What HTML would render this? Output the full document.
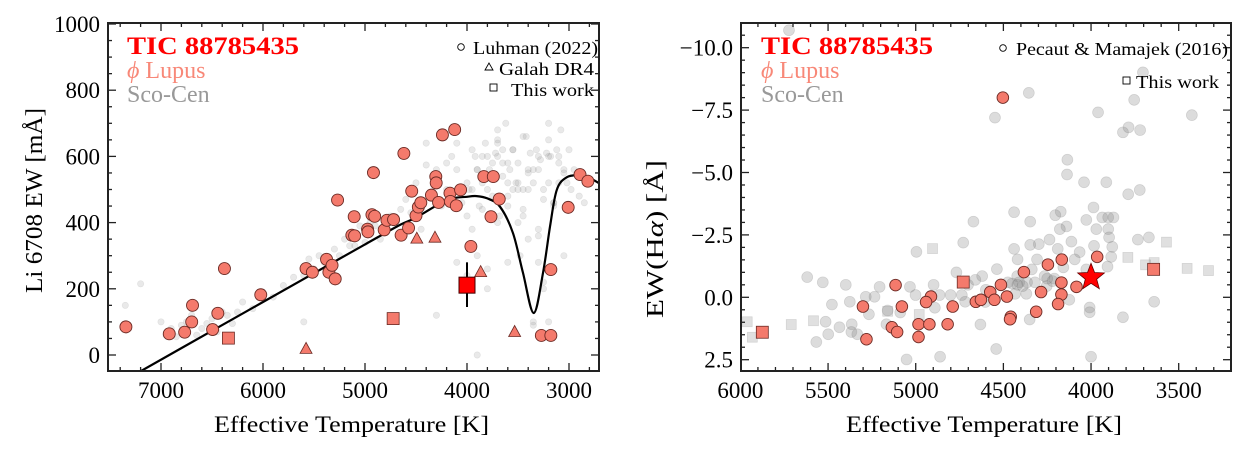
<!DOCTYPE html>
<html><head><meta charset="utf-8">
<style>
html,body{margin:0;padding:0;background:#fff;}
svg{display:block;font-family:"Liberation Serif",serif;}
</style></head>
<body>
<svg id="fig" width="1247" height="452" viewBox="0 0 1247 452" xmlns="http://www.w3.org/2000/svg">
<g id="left"></g>
<g id="right"></g>
</svg>
<script>
// ---------- LEFT PANEL DATA ----------
const liCircT  = [7344,6919,6768,6699,6691,6494,6443,6378,6022,5578,5516,5377,5354,5323,5292,5269,5129,5102,5106,4975,4971,4932,4917,4905,4812,4785,4720,4646,4619,4573,4542,4500,4477,4453,4349,4306,4302,4279,4241,4167,4163,4121,4105,4063,3962,3835,3742,3765,3684,3271,3178,3178,3008,2892,2815];
const liCircEW = [85,64,69,100,150,77,126,261,182,261,250,289,250,271,230,468,362,360,418,380,372,424,551,419,378,407,409,362,609,384,495,421,447,460,483,539,520,461,665,489,464,681,451,499,328,539,539,418,471,59,59,258,446,545,525];
const liTriT  = [4492,4314,3866,5578,3533];
const liTriEW = [353,356,252,20,71];
const liSqT  = [6339,4724];
const liSqEW = [51,110];
const targetT = [4000];
const targetEW = [211];
const targetErrLo = [145];
const targetErrHi = [280];
const curveT  = [7206,6500,6000,5500,5000,4657,4500,4199,4000,3905,3800,3676,3549,3451,3346,3255,3186,3121,3023,2892,2800,2706];
const curveEW = [-50,73,160,247,334,393,415,468,478,480,473,448,368,248,127,248,388,498,537,543,535,519];
const liGrayT  = [7350,7200,7000,6950,6900,6850,6800,6750,6700,6650,6600,6550,6500,6450,6400,6350,6300,6250,6200,6100,6000,5900,5800,5700,5600,5550,5500,5450,5400,5300,5250,5200,5150,5100,5050,5000,4950,4900,4850,4800,4750,4700,4650,4600,4550,4500,4450,4400,4350,4300,4250,4200,4150,4100,4050,4000,3980,3950,3920,3900,3880,3850,3820,3800,3780,3750,3720,3700,3680,3650,3620,3600,3580,3550,3520,3500,3480,3450,3420,3400,3380,3350,3320,3300,3280,3250,3220,3200,3180,3150,3120,3100,3080,3050,3020,3000,2980,2950,2900,2850,3900,3800,3700,3600,3500,3400,3300,3200,3100,3850,3750,3650,3550,3450,3350,3250,3150,3050,4100,4000,3950,3700,3600,3450,3300,3250,3200,6700,5600,4400,4300,3350,3900,3800,3700,3600,3500,3400,3300,3200,3100,3050,3950,3850,3750,3650,3550,3450,3350,3250,3150,4200,4100,4000,3900,3800,3700,3600,3500,3400,3300,3200];
const liGrayEW = [150,215,100,60,80,55,90,100,120,60,80,95,110,70,130,120,95,130,160,140,190,175,210,235,240,290,260,300,280,320,300,350,330,330,390,340,400,390,350,380,420,400,440,470,430,520,380,640,480,560,450,500,600,560,460,420,500,380,600,560,450,520,640,500,560,580,610,600,420,540,700,480,560,620,520,580,300,500,660,560,610,520,620,360,590,470,610,520,600,460,620,520,680,560,520,620,500,560,480,460,300,260,650,280,400,350,280,700,580,440,480,620,500,440,100,200,460,300,280,240,620,680,520,420,380,220,100,140,100,574,120,90,0,200,400,450,500,550,600,650,600,550,500,600,540,580,620,660,560,500,450,580,640,520,560,600,640,580,520,500,560,600,640,680];
// ---------- RIGHT PANEL DATA ----------
const haCircT  = [4503,3965,4167,4246,4383,4169,4514,4083,4575,4285,4169,4913,4657,4628,4551,4480,4941,5115,5079,5301,4789,4188,4313,4458,4462,4984,4922,4818,5136,5106,4984,5281];
const haCircEW = [-8.0,-1.62,-1.51,-1.31,-1.01,-0.59,-0.50,-0.42,-0.21,-0.21,-0.11,-0.03,0.18,0.10,0.10,-0.03,0.19,-0.49,0.37,0.37,0.37,0.27,0.58,0.78,0.88,1.08,1.08,1.08,1.20,1.39,1.59,1.68];
const haSqT  = [5875,4729,3643];
const haSqEW = [1.40,-0.61,-1.12];
const starT  = [4000];
const starEW = [-0.8];
const haGrayT  = [5723,4355,4548,3960,3754,3704,3425,3818,3786,3720,4135,4137,4040,3913,3788,3722,3986,4439,4173,4204,4347,4671,4027,3936,3902,3872,4140,3970,3902,4178,3670,3733,3897,4237,4112,4729,4298,4347,3879,4439,4190,4065,3983,4996,3885,4419,4308,4093,3906,4158,4338,4537,4768,4027,4621,4421,4265,4209,4474,4410,4365,4320,4253,4898,4702,5619,5530,5399,5033,5206,5001,4864,4801,4737,5285,5235,4433,4369,4718,4603,5478,5376,5160,5267,5088,4891,4124,4008,4008,3640,3818,5514,5365,5435,5167,4631,4350,5367,5499,5333,5567,4541,4861,5052,4000,4450,4420,4390,4600,4660,4250,4220];
const haGrayEW = [-10.7,-8.19,-7.2,-7.41,-7.91,-9.01,-7.30,-6.61,-6.81,-6.70,-5.51,-4.92,-4.61,-4.61,-4.13,-4.30,-3.60,-3.41,-3.43,-3.29,-3.03,-3.03,-3.10,-3.20,-3.20,-3.20,-2.84,-2.73,-2.73,-2.73,-2.40,-2.31,-2.40,-2.31,-2.23,-2.19,-2.13,-2.10,-2.02,-1.94,-1.94,-1.81,-2.06,-1.82,-1.62,-1.52,-1.52,-1.52,-1.23,-1.20,-1.12,-1.13,-1.0,-1.12,-0.85,-0.85,-0.85,-0.75,-0.60,-0.60,-0.60,-0.60,-0.45,-0.50,-0.50,-0.81,-0.60,-0.50,-0.42,-0.42,-0.09,-0.09,-0.09,-0.09,-0.02,-0.02,-0.14,-0.14,0.18,0.19,0.29,0.18,0.53,0.68,0.61,0.42,0.10,0.41,0.60,0.18,0.80,0.98,1.08,1.20,1.08,1.09,0.89,1.39,1.48,1.48,1.79,2.07,2.38,2.49,2.38,-0.55,-0.5,-0.45,-0.3,-0.7,-0.75,-0.65];
const haGraySqT  = [5961,5932,5710,5583,4904,3790,3689,3640,3570,3452,3330,5160,4980];
const haGraySqEW = [0.98,1.60,1.09,0.94,-1.95,-1.60,-1.30,-1.39,-2.21,-1.16,-1.07,0.56,0.69];

const leftXTicks = [7000,6000,5000,4000,3000];
const leftYTicks = [0,200,400,600,800,1000];
const rightXTicks = [6000,5500,5000,4500,4000,3500];
const rightYTicks = [-10.0,-7.5,-5.0,-2.5,0.0,2.5];

const NS='http://www.w3.org/2000/svg';
const SALMON='#f47a6c';
function mk(parent,tag,attrs,text){
  const e=document.createElementNS(NS,tag);
  for(const k in attrs) e.setAttribute(k,attrs[k]);
  if(text!==undefined) e.textContent=text;
  parent.appendChild(e); return e;
}
function lin(d0,d1,p0,p1){return v=>p0+(v-d0)/(d1-d0)*(p1-p0);}
function smoothPath(P){
  let d='M'+P[0][0].toFixed(1)+','+P[0][1].toFixed(1);
  for(let i=0;i<P.length-1;i++){
    const p0=P[Math.max(i-1,0)],p1=P[i],p2=P[i+1],p3=P[Math.min(i+2,P.length-1)];
    const c1=[p1[0]+(p2[0]-p0[0])/6,p1[1]+(p2[1]-p0[1])/6];
    const c2=[p2[0]-(p3[0]-p1[0])/6,p2[1]-(p3[1]-p1[1])/6];
    d+=`C${c1[0].toFixed(1)},${c1[1].toFixed(1)} ${c2[0].toFixed(1)},${c2[1].toFixed(1)} ${p2[0].toFixed(1)},${p2[1].toFixed(1)}`;
  }
  return d;
}
function fitText(parent,attrs,text,len){
  const t=mk(parent,'text',Object.assign({textLength:len,lengthAdjust:'spacingAndGlyphs'},attrs),text);
  return t;
}

// ---------- LEFT ----------
(function(){
  const g=document.getElementById('left');
  const X0=108,X1=599,Y0=23,Y1=371;
  const xs=lin(7000,3000,161,569), ys=lin(0,1000,355,24);
  const clip=mk(g,'clipPath',{id:'clipL'}); mk(clip,'rect',{x:X0,y:Y0,width:X1-X0,height:Y1-Y0});
  const pl=mk(g,'g',{'clip-path':'url(#clipL)'});
  
  
  for(let i=0;i<liGrayT.length;i++){
    const c=mk(pl,'circle',{cx:xs(liGrayT[i]),cy:ys(liGrayEW[i]),r:3.2,fill:'rgba(120,120,120,0.16)',stroke:'rgba(90,90,90,0.12)','stroke-width':0.6});
    
    
  }
  const P=curveT.map((t,i)=>[xs(t),ys(curveEW[i])]);
  const cv=mk(pl,'path',{d:smoothPath(P),fill:'none',stroke:'#000','stroke-width':2.2,'stroke-linejoin':'round'});
  
  
  for(let i=0;i<liCircT.length;i++){
    const c=mk(pl,'circle',{cx:xs(liCircT[i]),cy:ys(liCircEW[i]),r:6,fill:SALMON,stroke:'#6b2a24','stroke-width':0.9});
    
    
  }
  for(let i=0;i<liTriT.length;i++){
    const x=xs(liTriT[i]),y=ys(liTriEW[i]);
    const t=mk(pl,'polygon',{points:`${x},${y-6} ${x-6},${y+5} ${x+6},${y+5}`,fill:SALMON,stroke:'#6b2a24','stroke-width':0.8});
    
    
  }
  for(let i=0;i<liSqT.length;i++){
    const s=mk(pl,'rect',{x:xs(liSqT[i])-6,y:ys(liSqEW[i])-6,width:12,height:12,fill:SALMON,stroke:'#6b2a24','stroke-width':0.8});
    
    
  }
  for(let i=0;i<targetT.length;i++){
    const x=xs(targetT[i]);
    const eb=mk(pl,'line',{x1:x,x2:x,y1:ys(targetErrLo[i]),y2:ys(targetErrHi[i]),stroke:'#000','stroke-width':2});
    
    
    const s=mk(pl,'rect',{x:x-8,y:ys(targetEW[i])-8,width:16,height:16,fill:'#ff0000',stroke:'#400','stroke-width':1});
    
    
  }
  axes(g,X0,X1,Y0,Y1,xs,ys,leftXTicks,leftYTicks,7500,2700,200,-50,1000,50,v=>String(v),'left');
  const xt=fitText(g,{x:214,y:432,'font-size':23},'Effective Temperature [K]',275);
   
  const yt=fitText(g,{x:0,y:0,'font-size':24,transform:'translate(42,293) rotate(-90)'},'Li 6708 EW [mÅ]',185);
   
  labels(g,127,54);
  const lg=mk(g,'g',{});
   
  mk(lg,'circle',{cx:461,cy:47,r:3.3,fill:'none',stroke:'#000','stroke-width':0.9});
  fitText(lg,{x:473,y:54,'font-size':18},'Luhman (2022)',125);
  mk(lg,'polygon',{points:'489,63 485,70 493,70',fill:'none',stroke:'#000','stroke-width':0.9});
  fitText(lg,{x:499,y:75,'font-size':18},'Galah DR4',95);
  mk(lg,'rect',{x:490,y:84,width:7,height:7,fill:'none',stroke:'#000','stroke-width':0.9});
  fitText(lg,{x:511,y:96,'font-size':18},'This work',83);
})();

// ---------- RIGHT ----------
(function(){
  const g=document.getElementById('right');
  const X0=741,X1=1231,Y0=23,Y1=371;
  const xs=lin(6000,3500,740.4,1178.7), ys=lin(0,2.5,297.3,359.7);
  const clip=mk(g,'clipPath',{id:'clipR'}); mk(clip,'rect',{x:X0,y:Y0,width:X1-X0,height:Y1-Y0});
  const pl=mk(g,'g',{'clip-path':'url(#clipR)'});
  
  
  for(let i=0;i<haGrayT.length;i++){
    const c=mk(pl,'circle',{cx:xs(haGrayT[i]),cy:ys(haGrayEW[i]),r:5.5,fill:'rgba(130,130,130,0.28)',stroke:'rgba(100,100,100,0.2)','stroke-width':0.7});
    
    
  }
  for(let i=0;i<haGraySqT.length;i++){
    const s=mk(pl,'rect',{x:xs(haGraySqT[i])-5,y:ys(haGraySqEW[i])-5,width:10,height:10,fill:'rgba(130,130,130,0.25)',stroke:'rgba(100,100,100,0.2)','stroke-width':0.7});
    
    
  }
  for(let i=0;i<haCircT.length;i++){
    const c=mk(pl,'circle',{cx:xs(haCircT[i]),cy:ys(haCircEW[i]),r:5.8,fill:SALMON,stroke:'#6b2a24','stroke-width':0.9});
    
    
  }
  for(let i=0;i<haSqT.length;i++){
    const s=mk(pl,'rect',{x:xs(haSqT[i])-6,y:ys(haSqEW[i])-6,width:12,height:12,fill:SALMON,stroke:'#6b2a24','stroke-width':0.8});
    
    
  }
  for(let i=0;i<starT.length;i++){
    const cx=xs(starT[i]),cy=ys(starEW[i]);let p=[];
    for(let k=0;k<10;k++){const r=k%2?6:14,a=-Math.PI/2+k*Math.PI/5;p.push((cx+r*Math.cos(a)).toFixed(1)+','+(cy+r*Math.sin(a)).toFixed(1));}
    const s=mk(pl,'polygon',{points:p.join(' '),fill:'#ff0000',stroke:'#600','stroke-width':0.8});
    
    
  }
  axes(g,X0,X1,Y0,Y1,xs,ys,rightXTicks,rightYTicks,6000,3190,100,-11,3,0.5,v=>(v<0?'−':'')+Math.abs(v).toFixed(1),'right');
  const xt=fitText(g,{x:846,y:432,'font-size':23},'Effective Temperature [K]',276);
   
  const yt=mk(g,'text',{x:0,y:0,'font-size':24,textLength:158,lengthAdjust:'spacingAndGlyphs',transform:'translate(663,318) rotate(-90)'});
   
  yt.innerHTML='EW(H<tspan font-style="italic">α</tspan>) [Å]';
  labels(g,761,54);
  const lg=mk(g,'g',{});
   
  mk(lg,'circle',{cx:1003,cy:48,r:3.3,fill:'none',stroke:'#000','stroke-width':0.9});
  fitText(lg,{x:1016,y:55,'font-size':18},'Pecaut & Mamajek (2016)',212);
  mk(lg,'rect',{x:1123,y:77,width:7,height:7,fill:'none',stroke:'#000','stroke-width':0.9});
  fitText(lg,{x:1136,y:88,'font-size':18},'This work',83);
})();

function labels(g,x,y){
  const a=fitText(g,{x:x,y:y,'font-size':25,'font-weight':'bold',fill:'#ff0000'},'TIC 88785435',172);
   
  const b=mk(g,'text',{x:x,y:y+24,'font-size':24,fill:'#f88878'});
  b.innerHTML='<tspan font-style="italic">ϕ</tspan> Lupus';
   
  const c=mk(g,'text',{x:x,y:y+48,'font-size':24,fill:'#999'},'Sco-Cen');
   
}

function axes(g,X0,X1,Y0,Y1,xs,ys,xT,yT,xa,xb,xm,ya,yb,ym,fmt,side){
  const ag=mk(g,'g',{stroke:'#222','stroke-width':1.3});
  
  
  mk(ag,'rect',{x:X0,y:Y0,width:X1-X0,height:Y1-Y0,fill:'none','stroke-width':2});
  const lo=Math.min(xa,xb),hi=Math.max(xa,xb);
  for(let v=Math.ceil(lo/xm)*xm;v<=hi;v+=xm){
    const x=xs(v); if(x<X0+1||x>X1-1) continue;
    const maj=xT.includes(v), L=maj?8:4;
    mk(ag,'line',{x1:x,x2:x,y1:Y1,y2:Y1-L}); mk(ag,'line',{x1:x,x2:x,y1:Y0,y2:Y0+L});
  }
  for(let k=Math.ceil(ya/ym);k*ym<=yb;k++){
    const v=k*ym,y=ys(v); if(y<Y0+1||y>Y1-1) continue;
    const maj=yT.some(t=>Math.abs(t-v)<1e-6), L=maj?8:4;
    mk(ag,'line',{y1:y,y2:y,x1:X0,x2:X0+L}); mk(ag,'line',{y1:y,y2:y,x1:X1,x2:X1-L});
  }
  xT.forEach(v=>{
    const t=mk(g,'text',{x:xs(v),y:Y1+27,'font-size':23,'text-anchor':'middle'},String(v));
    
    
  });
  yT.forEach(v=>{
    const t=mk(g,'text',{x:X0-8,y:ys(v)+8,'font-size':23,'text-anchor':'end'},fmt(v));
    
    
  });
}
</script>
</body></html>
